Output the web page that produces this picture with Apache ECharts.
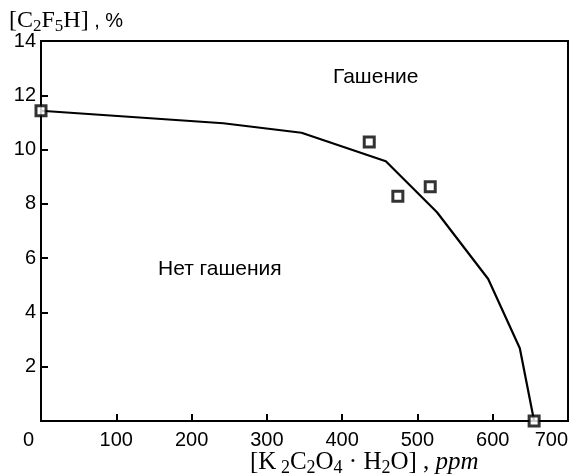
<!DOCTYPE html>
<html>
<head>
<meta charset="utf-8">
<script src="https://cdn.jsdelivr.net/npm/echarts@6/dist/echarts.min.js"></script>
<style>html,body{margin:0;padding:0;background:#fff;}#c{width:577px;height:475px;}</style>
</head>
<body>
<div id="c"></div>
<script>
const xTicks = [0, 100, 200, 300, 400, 500, 600, 700];
const yTicks = [0, 2, 4, 6, 8, 10, 12, 14];
const boundaryX = [0, 242, 346, 458, 526, 594, 636, 655];
const boundaryY = [11.43, 10.97, 10.62, 9.57, 7.69, 5.23, 2.68, 0];
const pointsX = [0, 436, 474, 517, 655];
const pointsY = [11.43, 10.28, 8.28, 8.63, 0];

const chart = echarts.init(document.getElementById('c'), null, {renderer: 'canvas'});
const serif = '"Liberation Serif", "DejaVu Serif", serif';
const sans = '"Liberation Sans", Arial, sans-serif';
chart.setOption({
  animation: false,
  backgroundColor: '#fff',
  grid: {left: 41, right: 9, top: 41, bottom: 54, show: true, borderColor: '#000', borderWidth: 2, backgroundColor: 'transparent'},
  xAxis: {
    type: 'value', min: xTicks[0], max: xTicks[xTicks.length - 1], interval: 100,
    axisLine: {show: true, onZero: false, lineStyle: {color: '#000', width: 2}},
    axisTick: {show: true, inside: true, length: 7, lineStyle: {color: '#000', width: 2}},
    axisLabel: {color: '#000', fontFamily: sans, fontSize: 20, margin: 9, alignMinLabel: 'right', alignMaxLabel: 'right',
      formatter: v => v === 0 ? '{z|0}' : String(v),
      rich: {z: {fontFamily: sans, fontSize: 20, color: '#000', padding: [0, 7, 0, 0]}}},
    splitLine: {show: false}
  },
  yAxis: {
    type: 'value', min: yTicks[0], max: yTicks[yTicks.length - 1], interval: 2,
    axisLine: {show: true, onZero: false, lineStyle: {color: '#000', width: 2}},
    axisTick: {show: true, inside: true, length: 7, lineStyle: {color: '#000', width: 2}},
    axisLabel: {color: '#000', fontFamily: sans, fontSize: 20, margin: 5, formatter: v => v === 0 ? '' : String(v)},
    splitLine: {show: false}
  },
  series: [
    {
      type: 'line', data: boundaryX.map((x, i) => [x, boundaryY[i]]),
      showSymbol: false, symbol: 'none',
      lineStyle: {color: '#000', width: 2.2}, z: 2
    },
    {
      type: 'scatter', data: pointsX.map((x, i) => [x, pointsY[i]]),
      symbol: 'rect', symbolSize: 10,
      itemStyle: {color: '#fff', borderColor: '#000', borderWidth: 3},
      z: 3
    }
  ],
  graphic: [
    {type: 'text', left: 9, top: 7, style: {
      text: '{a|[C}{s|2}{a|F}{s|5}{a|H]}{b| , %}',
      rich: {
        a: {fontFamily: serif, fontSize: 24, fill: '#000', lineHeight: 28},
        s: {fontFamily: serif, fontSize: 17, fill: '#000', padding: [11, 0, 0, 0], lineHeight: 28},
        b: {fontFamily: sans, fontSize: 20, fill: '#000', lineHeight: 28}
      }}},
    {type: 'text', left: 250, top: 448, style: {
      text: '{a|[K}{s| 2}{a|C}{s|2}{a|O}{s|4}{a| · H}{s|2}{a|O] , }{i|ppm}',
      rich: {
        a: {fontFamily: serif, fontSize: 25, fill: '#000', lineHeight: 28},
        s: {fontFamily: serif, fontSize: 18, fill: '#000', padding: [11, 0, 0, 0], lineHeight: 28},
        i: {fontFamily: serif, fontSize: 25, fontStyle: 'italic', fill: '#000', lineHeight: 28}
      }}},
    {type: 'text', left: 333, top: 67, style: {text: 'Гашение', font: '21px ' + sans, fill: '#000'}},
    {type: 'text', left: 158, top: 259, style: {text: 'Нет гашения', font: '21px ' + sans, fill: '#000'}}
  ]
});
</script>
</body>
</html>
